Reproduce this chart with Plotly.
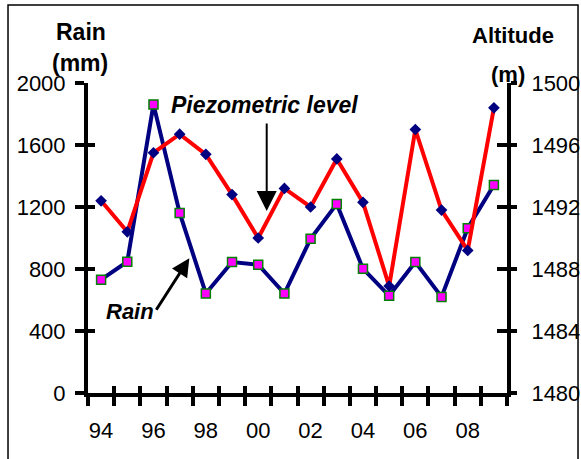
import plotly.graph_objects as go

# ---- data ----
years = [1994, 1995, 1996, 1997, 1998, 1999, 2000, 2001, 2002, 2003, 2004, 2005, 2006, 2007, 2008, 2009]
rain_mm = [731, 847, 1862, 1162, 642, 845, 828, 642, 995, 1220, 802, 627, 845, 620, 1063, 1342]
piezo_alt = [1492.4, 1490.4, 1495.5, 1496.7, 1495.4, 1492.8, 1490.0, 1493.2, 1492.0, 1495.1,
             1492.3, 1486.9, 1497.0, 1491.8, 1489.2, 1498.4]
label_years = [1994, 1996, 1998, 2000, 2002, 2004, 2006, 2008]
label_text = ["94", "96", "98", "00", "02", "04", "06", "08"]
rain_ticks = [0, 400, 800, 1200, 1600, 2000]
alt_ticks = [1480, 1484, 1488, 1492, 1496, 1500]

boundaries = [y - 0.5 for y in years] + [years[-1] + 0.5]
xr = [years[0] - 0.5, years[-1] + 0.5]

FONT = "Liberation Sans, Arial, sans-serif"
TICK = 22

fig = go.Figure()
fig.add_trace(go.Scatter(
    x=years, y=rain_mm, mode="lines+markers", name="Rain",
    line=dict(color="#000080", width=4),
    marker=dict(symbol="square", size=9, color="#FF00FF", line=dict(color="#008000", width=1.5)),
    xaxis="x", yaxis="y"))
fig.add_trace(go.Scatter(
    x=years, y=piezo_alt, mode="lines+markers", name="Piezometric level",
    line=dict(color="#FF0000", width=4),
    marker=dict(symbol="diamond", size=9, color="#000080"),
    xaxis="x", yaxis="y2"))

axis_common = dict(showgrid=False, zeroline=False, automargin=False)

fig.update_layout(
    width=581, height=459,
    margin=dict(l=88, r=74, t=83, b=66, autoexpand=False),
    paper_bgcolor="white", plot_bgcolor="white",
    showlegend=False,
    font=dict(family=FONT, size=TICK, color="#000000"),
    xaxis=dict(range=xr, tickmode="array", tickvals=boundaries, showticklabels=False,
               ticks="outside", ticklen=9, tickwidth=4, tickcolor="black",
               showline=True, linewidth=4, linecolor="black", **axis_common),
    xaxis2=dict(range=xr, overlaying="x", anchor="y", tickmode="array", tickvals=boundaries,
                showticklabels=False, ticks="inside", ticklen=7, tickwidth=4, tickcolor="black",
                showline=False, **axis_common),
    xaxis3=dict(range=xr, overlaying="x", anchor="y", tickmode="array", tickvals=label_years,
                ticktext=label_text, ticks="", showline=False, ticklabelstandoff=22,
                tickfont=dict(size=TICK, color="black"), **axis_common),
    yaxis=dict(range=[0, 2000], tickmode="array", tickvals=rain_ticks,
               ticks="outside", ticklen=9, tickwidth=4, tickcolor="black",
               showline=True, linewidth=4, linecolor="black", ticklabelstandoff=5,
               tickfont=dict(size=TICK, color="black"), **axis_common),
    yaxis3=dict(range=[0, 2000], overlaying="y", anchor="x", side="left", tickmode="array",
                tickvals=rain_ticks, showticklabels=False, ticks="inside", ticklen=7,
                tickwidth=4, tickcolor="black", showline=False, **axis_common),
    yaxis2=dict(range=[1480, 1500], overlaying="y", anchor="x", side="right", tickmode="array",
                tickvals=alt_ticks, ticks="outside", ticklen=6, tickwidth=4, tickcolor="black",
                showline=True, linewidth=4, linecolor="black", ticklabelstandoff=10,
                tickfont=dict(size=TICK, color="black"), ticklabeloverflow="allow",
                **axis_common),
    yaxis4=dict(range=[1480, 1500], overlaying="y", anchor="x", side="right", tickmode="array",
                tickvals=alt_ticks, showticklabels=False, ticks="inside", ticklen=10,
                tickwidth=4, tickcolor="black", showline=False, **axis_common),
)

# invisible helper traces so the extra overlay axes are drawn
for xa, ya in [("x2", "y"), ("x3", "y"), ("x", "y3"), ("x", "y4")]:
    fig.add_trace(go.Scatter(x=[], y=[], xaxis=xa, yaxis=ya, showlegend=False, hoverinfo="skip"))

ann = [
    # axis titles
    dict(text="<b>Rain</b>", x=-0.0167, y=1.1645, size=23),
    dict(text="<b>(mm)</b>", x=-0.019, y=1.0645, size=23),
    dict(text="<b>Altitude</b>", x=1.0143, y=1.1548, size=22),
    dict(text="<b>(m)</b>", x=1.0024, y=1.029, size=22),
    # labels
    dict(text="<b><i>Piezometric level</i></b>", x=0.421, y=0.929, size=23),
    dict(text="<b><i>Rain</i></b>", x=0.1002, y=0.2645, size=22),
]
for a in ann:
    size = a.pop("size")
    fig.add_annotation(xref="paper", yref="paper", xanchor="center", yanchor="middle",
                       showarrow=False, font=dict(family=FONT, size=size, color="black"), **a)

# arrows
fig.add_annotation(xref="paper", yref="paper", x=0.4265, y=0.5871, text="",
                   showarrow=True, ax=0, ay=-89, arrowhead=2, arrowwidth=2, arrowsize=2,
                   arrowcolor="black", standoff=0)
fig.add_annotation(xref="paper", yref="paper", x=0.2418, y=0.4345, text="",
                   showarrow=True, ax=-34, ay=53, arrowhead=2, arrowwidth=3, arrowsize=1.2,
                   arrowcolor="black", standoff=0)

# outer frame
fig.add_shape(type="rect", xref="paper", yref="paper",
              x0=-0.1909, x1=1.1695, y0=-0.26, y1=1.2516,
              line=dict(color="black", width=1.5), fillcolor="rgba(0,0,0,0)", layer="below")

fig.write_html("out.html")
